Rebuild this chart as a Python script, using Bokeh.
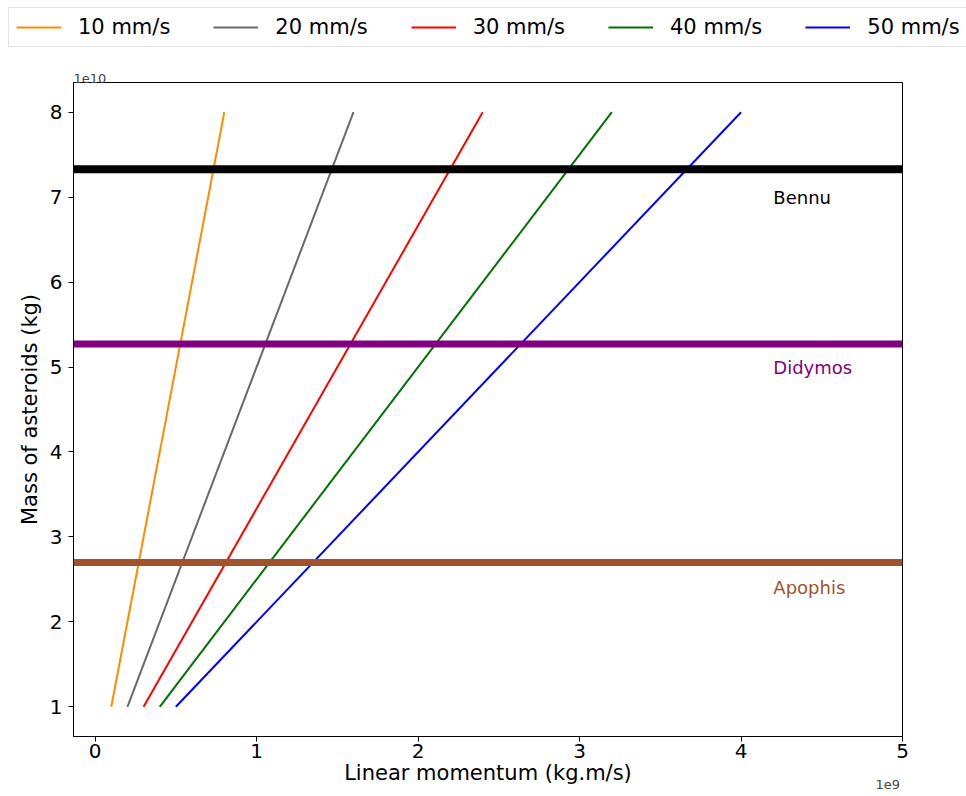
from bokeh.plotting import figure
from bokeh.models import (Range1d, FixedTicker, CustomJSTickFormatter, Span, Legend,
                          LegendItem, Label, ColumnDataSource)
from bokeh.core.properties import value
from bokeh.embed import file_html
from bokeh.resources import INLINE

# ---- data ----
speed_labels = ["10 mm/s", "20 mm/s", "30 mm/s", "40 mm/s", "50 mm/s"]
speed_colors = ["#ff8c00", "#696969", "#ff0000", "#007000", "#0000ff"]
mass_kg = [1e10, 8e10]
momentum_10 = [0.1e9, 0.8e9]
momentum_20 = [0.2e9, 1.6e9]
momentum_30 = [0.3e9, 2.4e9]
momentum_40 = [0.4e9, 3.2e9]
momentum_50 = [0.5e9, 4.0e9]
momenta = [momentum_10, momentum_20, momentum_30, momentum_40, momentum_50]

asteroid_names = ["Bennu", "Didymos", "Apophis"]
asteroid_mass = [7.33e10, 5.27e10, 2.70e10]
asteroid_colors = ["#000000", "#800080", "#a0522d"]
asteroid_widths = [8, 7, 7]
label_x = [4.2e9, 4.2e9, 4.2e9]
label_y = [7.0e10, 5.0e10, 2.4e10]

x_ticks = [0, 1e9, 2e9, 3e9, 4e9, 5e9]
y_ticks = [1e10, 2e10, 3e10, 4e10, 5e10, 6e10, 7e10, 8e10]

FONT = "DejaVu Sans"
LEG_H = 56

# ---- main chart ----
p = figure(width=966, height=796 - LEG_H, output_backend="svg", toolbar_location=None, title=None,
           x_range=Range1d(-0.134e9, 5.0e9), y_range=Range1d(0.65e10, 8.35e10),
           min_border_left=73, min_border_right=64, min_border_top=26, min_border_bottom=57)
p.grid.visible = False
p.outline_line_color = "black"
p.outline_line_width = 1
p.background_fill_color = "white"
p.border_fill_color = "white"

p.xaxis.ticker = FixedTicker(ticks=x_ticks)
p.yaxis.ticker = FixedTicker(ticks=y_ticks)
p.xaxis.formatter = CustomJSTickFormatter(code="return (tick/1e9).toFixed(0);")
p.yaxis.formatter = CustomJSTickFormatter(code="return (tick/1e10).toFixed(0);")
for ax in (p.xaxis, p.yaxis):
    ax.axis_line_color = "black"
    ax.major_tick_line_color = "black"
    ax.major_tick_out = 5
    ax.major_tick_in = 0
    ax.minor_tick_line_color = None
    ax.major_label_text_font = FONT
    ax.major_label_text_font_size = "20px"
    ax.major_label_text_color = "black"
    ax.axis_label_text_font = FONT
    ax.axis_label_text_font_size = "21px"
    ax.axis_label_text_font_style = "normal"
    ax.axis_label_text_color = "black"
p.xaxis.axis_label = "Linear momentum (kg.m/s)"
p.yaxis.axis_label = "Mass of asteroids (kg)"
p.xaxis.major_label_standoff = 2
p.xaxis.axis_label_standoff = 0
p.yaxis.major_label_standoff = 6
p.yaxis.axis_label_standoff = 5

for col, mom in zip(speed_colors, momenta):
    p.line(x=mom, y=mass_kg, line_color=col, line_width=2)

for m, col, w in zip(asteroid_mass, asteroid_colors, asteroid_widths):
    p.add_layout(Span(location=m, dimension="width", line_color=col, line_width=w))

src = ColumnDataSource(dict(x=label_x, y=label_y, t=asteroid_names, c=asteroid_colors))
p.text(x="x", y="y", text="t", text_color="c", source=src, text_font=value(FONT),
       text_font_size="18px", text_baseline="alphabetic", text_align="left")

p.add_layout(Label(x=0, y=4, x_units="screen", y_units="screen", text="1e10",
                   text_font=FONT, text_font_size="13px", text_baseline="alphabetic"),
             "above")
p.add_layout(Label(x=802, y=12, x_units="screen", y_units="screen", text="1e9",
                   text_font=FONT, text_font_size="13px", text_baseline="alphabetic"),
             "below")

# ---- legend strip (separate root, full-width frame) ----
lg = figure(width=966, height=LEG_H, output_backend="svg", toolbar_location=None, title=None,
            x_range=Range1d(0, 1), y_range=Range1d(0, 1), x_axis_type=None, y_axis_type=None,
            min_border=0, min_border_left=0, min_border_right=0, min_border_top=0,
            min_border_bottom=0)
lg.grid.visible = False
lg.outline_line_color = None
items = []
for lab, col, mom in zip(speed_labels, speed_colors, momenta):
    # same series as the chart; they fall outside this strip's ranges, only the legend key shows
    r = lg.line(x=mom, y=mass_kg, line_color=col, line_width=2)
    items.append(LegendItem(label=lab, renderers=[r]))
legend = Legend(items=items, orientation="horizontal", location=(8, 9),
                label_text_font=FONT, label_text_font_size="21px", label_text_color="black",
                glyph_width=45, glyph_height=20, label_height=20, label_standoff=17,
                spacing=43, padding=7, margin=0,
                border_line_color="#cccccc", border_line_width=1,
                background_fill_color="white", background_fill_alpha=1)
lg.add_layout(legend, "center")

open("out.html", "w").write(file_html([lg, p], INLINE))
